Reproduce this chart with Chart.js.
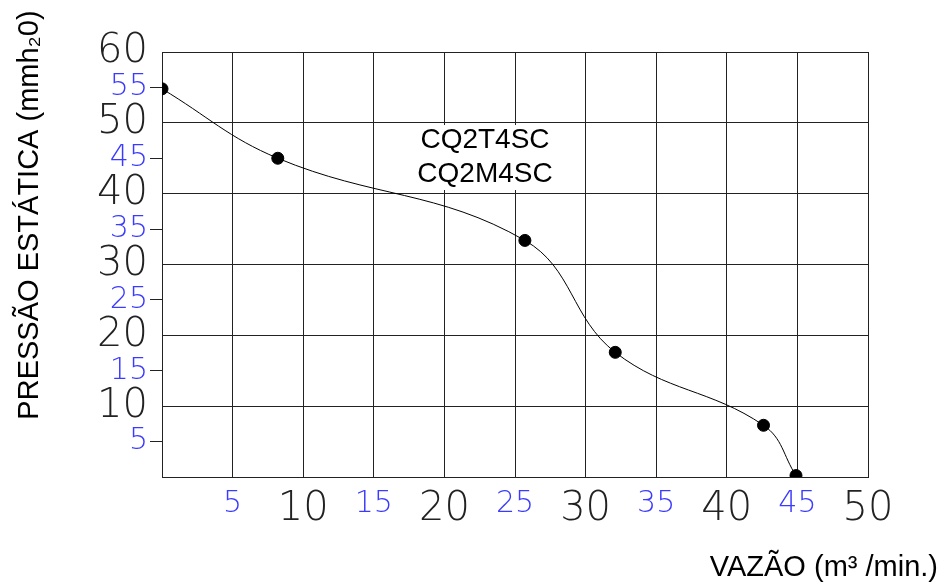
<!DOCTYPE html>
<meta charset="UTF-8">
<style>
  body { margin: 0; background: #fff; }
  #wrap { width: 942px; height: 583px; }
</style>

<div id="wrap">
  <canvas id="myChart"></canvas>
</div>

<script src="https://cdn.jsdelivr.net/npm/chart.js@4.4.0/dist/chart.umd.min.js"></script>

<script>
  // vazão (m³/min) x pressão estática (mmH2O)
  const vazao = [0, 8.2, 25.7, 32.1, 42.6, 44.9];
  const pressao = [54.8, 45.0, 33.4, 17.6, 7.3, 0.2];

  const modelos = ['CQ2T4SC', 'CQ2M4SC'];
  const tituloX = 'VAZÃO (m³ /min.)';
  const tituloY = 'PRESSÃO ESTÁTICA (mmh₂0)';

  const BLUE = '#3b3bff';
  const GRID = '#222';
  const numFont = 'DejaVu Sans';

  const points = vazao.map((v, i) => ({x: v, y: pressao[i]}));

  // ctx.tick can be missing when chart.js resolves the option for the whole scale
  const isTen = ctx => !ctx.tick || ctx.tick.value % 10 === 0;

  const tickColor = ctx => isTen(ctx) ? '#222' : BLUE;
  const tickFont = ctx => isTen(ctx)
    ? {family: numFont, size: 40, weight: '200'}
    : {family: numFont, size: 30, weight: '200'};

  const textos = {
    id: 'textos',
    beforeDatasetsDraw(chart) {
      const c = chart.ctx;
      c.save();
      c.fillStyle = '#fff';
      c.fillRect(416, 125, 168, 65);
      c.fillStyle = '#000';
      c.font = '28px "Liberation Sans", Arial, sans-serif';
      c.textAlign = 'center';
      c.textBaseline = 'middle';
      c.fillText(modelos[0], 485, 140);
      c.fillText(modelos[1], 485, 174);
      c.restore();
    },
    afterDraw(chart) {
      const c = chart.ctx;
      c.save();
      c.fillStyle = '#000';
      c.font = '29px "Liberation Sans", Arial, sans-serif';
      c.textBaseline = 'middle';
      c.textAlign = 'right';
      c.fillText(tituloX, 938, 568);
      c.translate(30, 215);
      c.rotate(-Math.PI / 2);
      c.textAlign = 'center';
      c.fillText(tituloY, 0, 0);
      c.restore();
    }
  };

  const config = {
    type: 'line',
    data: {
      datasets: [{
        data: points,
        borderColor: '#000',
        borderWidth: 1,
        backgroundColor: '#000',
        pointRadius: 6,
        pointHoverRadius: 6,
        tension: 0.4,
        fill: false,
      }]
    },
    options: {
      responsive: true,
      maintainAspectRatio: false,
      animation: false,
      layout: {
        padding: {left: 0, top: 52, right: 74, bottom: 0}
      },
      plugins: {
        legend: {display: false},
        tooltip: {enabled: false},
      },
      scales: {
        x: {
          type: 'linear',
          min: 0,
          max: 50,
          afterFit: s => { s.height = 106; },
          border: {color: GRID, width: 1},
          grid: {
            color: GRID,
            drawTicks: false,
          },
          ticks: {
            stepSize: 5,
            autoSkip: false,
            maxRotation: 0,
            padding: 9,
            color: tickColor,
            font: tickFont,
            callback: v => v === 0 ? '' : v,
          }
        },
        y: {
          type: 'linear',
          min: 0,
          max: 60,
          afterFit: s => { s.width = 162; },
          border: {color: GRID, width: 1},
          grid: {
            color: ctx => isTen(ctx) ? GRID : 'transparent',
            tickColor: ctx => isTen(ctx) ? 'transparent' : GRID,
            tickLength: 12,
          },
          ticks: {
            stepSize: 5,
            autoSkip: false,
            padding: 2,
            color: tickColor,
            font: tickFont,
            callback: v => v === 0 ? '' : v,
          }
        }
      }
    },
    plugins: [textos]
  };

  new Chart(document.getElementById('myChart'), config);
</script>
